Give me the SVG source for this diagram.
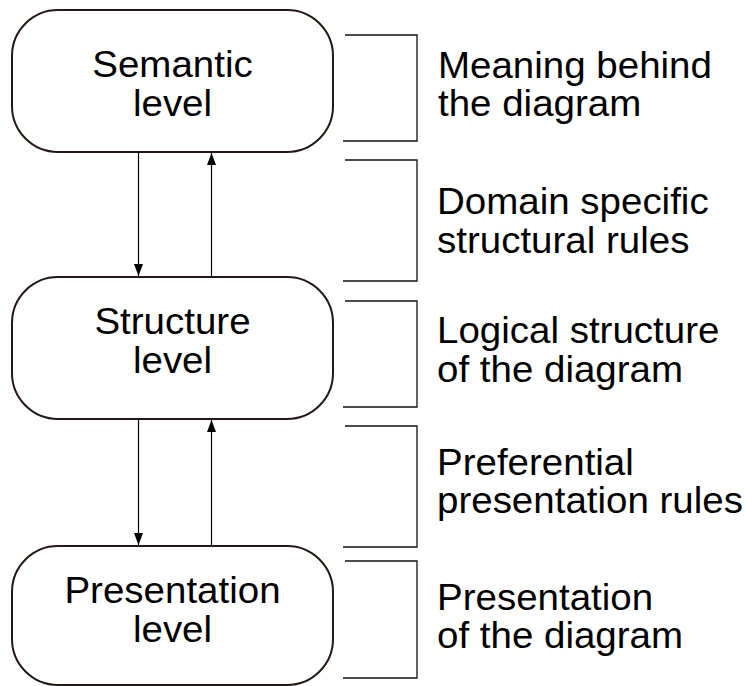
<svg xmlns="http://www.w3.org/2000/svg" width="745" height="686" viewBox="0 0 745 686">
  <style>
    .box { fill: #ffffff; stroke: #231815; stroke-width: 2; }
    .label { font-family: "Liberation Sans", Arial, sans-serif; font-size: 36.5px; fill: #000000; }
    .mid { text-anchor: middle; }
    .edge { fill: none; stroke: #000000; stroke-width: 1.2; }
    .brace { fill: none; stroke: #111111; stroke-width: 1.3; }
  </style>
  <defs>
    <marker id="arrow" viewBox="0 0 12 9" refX="12" refY="4.5" markerWidth="12" markerHeight="9" markerUnits="userSpaceOnUse" orient="auto">
      <path d="M0,0 L12,4.5 L0,9 Z" fill="#000000"/>
    </marker>
  </defs>

  <rect width="745" height="686" fill="#ffffff"/>

  <!-- level nodes -->
  <g id="semantic">
    <rect class="box" x="12" y="10" width="321" height="142" rx="46" ry="46"/>
    <g transform="translate(172.5,0) scale(1.055,1)">
      <text class="label mid" x="0" y="77">Semantic</text>
      <text class="label mid" x="0" y="116">level</text>
    </g>
  </g>
  <g id="structure">
    <rect class="box" x="12" y="277" width="321" height="142" rx="46" ry="46"/>
    <g transform="translate(172.5,0) scale(1.055,1)">
      <text class="label mid" x="0" y="334">Structure</text>
      <text class="label mid" x="0" y="373">level</text>
    </g>
  </g>
  <g id="presentation">
    <rect class="box" x="12" y="546" width="321" height="139" rx="46" ry="46"/>
    <g transform="translate(172.5,0) scale(1.055,1)">
      <text class="label mid" x="0" y="603">Presentation</text>
      <text class="label mid" x="0" y="642">level</text>
    </g>
  </g>

  <!-- arrows between levels -->
  <g id="connectors">
    <line class="edge" x1="138.5" y1="152" x2="138.5" y2="276" marker-end="url(#arrow)"/>
    <line class="edge" x1="211.5" y1="277" x2="211.5" y2="153" marker-end="url(#arrow)"/>
    <line class="edge" x1="138.5" y1="419" x2="138.5" y2="545" marker-end="url(#arrow)"/>
    <line class="edge" x1="211.5" y1="546" x2="211.5" y2="420" marker-end="url(#arrow)"/>
  </g>

  <!-- brackets with descriptions -->
  <g id="desc-semantic">
    <path class="brace" d="M345,35 H417 V141 H343"/>
    <g transform="translate(438,0) scale(1.055,1)">
      <text class="label" x="0" y="78">Meaning behind</text>
      <text class="label" x="0" y="116">the diagram</text>
    </g>
  </g>
  <g id="desc-domain">
    <path class="brace" d="M345,160 H417 V281 H343"/>
    <g transform="translate(437,0) scale(1.055,1)">
      <text class="label" x="0" y="214">Domain specific</text>
      <text class="label" x="0" y="253">structural rules</text>
    </g>
  </g>
  <g id="desc-logical">
    <path class="brace" d="M345,301 H417 V407 H343"/>
    <g transform="translate(437,0) scale(1.055,1)">
      <text class="label" x="0" y="343">Logical structure</text>
      <text class="label" x="0" y="382">of the diagram</text>
    </g>
  </g>
  <g id="desc-preferential">
    <path class="brace" d="M345,426 H417 V547 H343"/>
    <g transform="translate(437,0) scale(1.055,1)">
      <text class="label" x="0" y="475">Preferential</text>
      <text class="label" x="0" y="513">presentation rules</text>
    </g>
  </g>
  <g id="desc-presentation">
    <path class="brace" d="M345,561 H417 V678 H343"/>
    <g transform="translate(437,0) scale(1.055,1)">
      <text class="label" x="0" y="610">Presentation</text>
      <text class="label" x="0" y="648">of the diagram</text>
    </g>
  </g>
</svg>
